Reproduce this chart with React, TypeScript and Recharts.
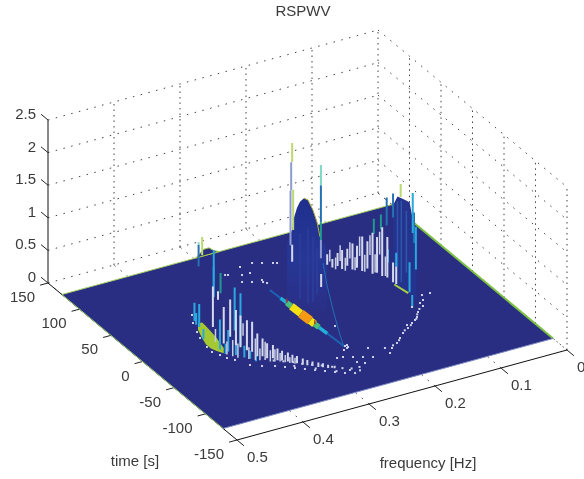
import React from "react";
import { ComposedChart, XAxis, YAxis, Line, Area, Scatter } from "recharts";

type Seg = [number, number, number, number];
type Pt3 = [number, number, number];

// Axis ticks
const FREQ_TICKS = [0, 0.1, 0.2, 0.3, 0.4, 0.5];
const TIME_TICKS = [-150, -100, -50, 0, 50, 100, 150];
const POWER_TICKS = [0, 0.5, 1, 1.5, 2, 2.5];
const FREQ_LABELS = ["0", "0.1", "0.2", "0.3", "0.4", "0.5"];
const TIME_LABELS = ["-150", "-100", "-50", "0", "50", "100", "150"];
const POWER_LABELS = ["0", "0.5", "1", "1.5", "2", "2.5"];

// Surface extent
const SURFACE_FREQ = [0, 0.5];
const SURFACE_TIME = [-128, 128];

// Spikes: [frequency, time, power from, power to]
const whiteSpikes: Seg[] = [
  [0.4, -7, 0.31, 0.93], [0.398, -13, 0.77, 0.9], [0.396, -20, 0.15, 0.71], [0.392, -26, 0.29, 0.86],
  [0.388, -31, 0.19, 0.73], [0.384, -34, 0.17, 0.66], [0.379, -39, 0.15, 0.61], [0.374, -42, 0.14, 0.6],
  [0.369, -45, 0.08, 0.43], [0.363, -47, 0.08, 0.35], [0.358, -49, 0.05, 0.28], [0.352, -52, 0.06, 0.26],
  [0.347, -54, 0.03, 0.21], [0.342, -56, 0.03, 0.18], [0.337, -60, 0.03, 0.17], [0.333, -63, 0.03, 0.15],
  [0.328, -65, 0.02, 0.13], [0.323, -69, 0.02, 0.11], [0.319, -72, 0.02, 0.1], [0.314, -75, 0.02, 0.09],
  [0.308, -78, 0.01, 0.08], [0.303, -80, 0.01, 0.07], [0.298, -83, 0.01, 0.06], [0.291, -86, 0.01, 0.05],
  [0.16, 63, 0.04, 0.2], [0.156, 59, 0.02, 0.15], [0.151, 56, 0.05, 0.25], [0.147, 53, 0.02, 0.31],
  [0.142, 50, 0.08, 0.34], [0.137, 47, 0.03, 0.43], [0.132, 45, 0.06, 0.4], [0.127, 42, 0.02, 0.55],
  [0.123, 38, 0.08, 0.5], [0.119, 34, 0.02, 0.65], [0.116, 30, 0.06, 0.61], [0.112, 26, 0.03, 0.78],
  [0.109, 21, 0.04, 0.66], [0.107, 14, 0.02, 0.32], [0.106, 10, 0.02, 0.29],
  [0.194, 83, 0.02, 0.28], [0.194, 37, 0, 0.2],
];
const whiteRowTwo: Seg[] = [
  [0.158, 61, 0.1, 0.28], [0.153, 57, 0, 0.18], [0.149, 54, 0.14, 0.38], [0.144, 51, 0, 0.2], [0.14, 48, 0.2, 0.45],
  [0.134, 46, 0.02, 0.22], [0.13, 43, 0.25, 0.55], [0.125, 40, 0.02, 0.28], [0.121, 36, 0.3, 0.6], [0.117, 32, 0.05, 0.33],
  [0.114, 28, 0.35, 0.7], [0.11, 23, 0.05, 0.35],
  [0.399, -10, 0.1, 0.3], [0.394, -23, 0, 0.2], [0.39, -28, 0, 0.25], [0.386, -32, 0, 0.22], [0.382, -36, 0.36, 0.55],
  [0.377, -40, 0.02, 0.2], [0.371, -44, 0.02, 0.35], [0.366, -46, 0.02, 0.2], [0.36, -48, 0.02, 0.3], [0.355, -51, 0.01, 0.18],
  [0.35, -53, 0.01, 0.2], [0.344, -55, 0.01, 0.14], [0.339, -58, 0.01, 0.12], [0.335, -61, 0.01, 0.1], [0.33, -64, 0.01, 0.1],
];
const cyanSpikes: Seg[] = [
  [0.385, 38, 0, 0.28], [0.395, 20, 0.08, 0.43], [0.397, -15, 0.02, 0.48], [0.393, -24, 0.05, 0.38],
  [0.389, -30, 0.41, 1.07], [0.384, -34, 0.2, 1.0], [0.388, -31, 0.04, 0.35], [0.381, -37, 0.03, 0.21],
  [0.376, -41, 0.03, 0.15], [0.33, 65, 0, 0.72], [0.102, -12, 0.97, 1.58], [0.102, -17, 0.45, 1.1],
  [0.106, 10, 0.29, 0.5], [0.109, 20, 0.28, 0.48], [0.103, -8, 0.03, 0.49], [0.119, -29, 0, 0.2],
  [0.39, 30, 0.02, 0.2], [0.4, 8, 0, 0.16], [0.395, -22, 0, 0.16], [0.37, -44, 0, 0.1],
];
const blueSpikes: Seg[] = [
  [0.4, -8, 0.93, 1.24], [0.107, 14, 1.01, 1.38], [0.109, 22, 0.83, 1.26], [0.102, -14, 0.83, 1.3],
  [0.16, 73, 0.61, 1.18], [0.31, 110, 0.05, 0.38],
];
const tealSpikes: Seg[] = [
  [0.397, -16, 0.89, 1.2], [0.118, 33, 0.64, 0.87], [0.113, 27, 0.74, 0.97], [0.16, 73, 0.34, 0.61],
];
const mintSpikes: Seg[] = [[0.16, 73, 1.18, 1.49], [0.31, 110, 0.38, 0.42]];
const limeSpikes: Seg[] = [[0.194, 83, 1.55, 1.84], [0.1925, 83, 0.5, 1.12], [0.3065, 108, 0.23, 0.51], [0.105, 4, 1.4, 1.6]];
const lilacSpikes: Seg[] = [[0.1955, 83, 1.12, 1.55], [0.1965, 83, 0.28, 1.12], [0.16, 73, 0.06, 0.34]];
const redMarks: Seg[] = [[0.2549, 28, 0, 0.06], [0.2522, -14, 0, 0.06]];

// Central dome, at time 0
const domeFreq = [0.281, 0.2735, 0.2705, 0.266, 0.2614, 0.2553, 0.2492, 0.2417, 0.2356, 0.2311, 0.2205];
const domePower = [1.2, 1.39, 1.57, 1.71, 1.79, 1.83, 1.785, 1.61, 1.41, 1.17, 0.94];
const domeStripes: Seg[] = [
  [0.2614, 0, 0.3, 1.3], [0.2492, 0, 0.2, 1.35], [0.2417, 0, 0.2, 1.2], [0.2356, 0, 0.3, 1.0],
];

// Right wall: [frequency, time, power]
const wallColumns: Pt3[] = [
  [0.107, 14, 1.2], [0.106, 8, 1.38], [0.1045, -1, 1.4], [0.103, -8, 1.41], [0.102, -14, 1.1], [0.102, -18, 0.6],
];
const wallStripes: Seg[] = [
  [0.106, 8, 0.3, 1.3], [0.105, 3, 0.1, 1.35], [0.104, -4, 0.3, 1.25],
];

// Small far hill at the surface edge
const hillColumns: Pt3[] = [[0.297, 128, 0], [0.285, 128, 0.1], [0.277, 128, 0.1], [0.27, 128, 0.04], [0.262, 128, 0]];

// Green patch low on the left
const patchColumns: Pt3[] = [[0.393, 24, 0.1], [0.4, 10, 0.24], [0.404, 0, 0.28], [0.404, -8, 0.26], [0.401, -14, 0.2], [0.396, -20, 0.08]];

// Central ridge: stops along time
const ridgeFreq = [0.2565, 0.2555, 0.2549, 0.2544, 0.2535, 0.2526, 0.2522, 0.2517, 0.2509, 0.249];
const ridgeTime = [53, 37, 28, 21, 7, -7, -13.5, -20, -32.5, -58.6];
const ridgeLevel = [1, 2, 3, 4, 5, 4, 3, 2, 1];

// Thin tail and green base of right wall: [frequency, time, power]
const tailCurve: Pt3[] = [[0.1589, 70.9, 0], [0.1845, 37.7, 0], [0.212, -0.7, 0], [0.2383, -39.4, 0], [0.2502, -58.2, 0]];
const wallBase: Pt3[] = [[0.107, 12, 0], [0.103, -6, 0]];

// Isolated points: [frequency, time]
const dots: [number, number][] = [
  [0.0899, -14], [0.078, -14.3], [0.1178, -27.3], [0.0956, -21.6], [0.1031, -24.7], [0.1038, -30.2], [0.1178, -36.9],
  [0.1258, -43.7], [0.1322, -47.2], [0.1397, -50.3], [0.1512, -56], [0.1482, -51.3], [0.1637, -61.2], [0.174, -67.2],
  [0.1843, -73.2], [0.1969, -78.5], [0.206, -84.9], [0.2049, -75.7], [0.2309, -84], [0.2242, -69], [0.2483, -89.5],
  [0.256, -84.9], [0.275, -93.6], [0.2441, -56.5], [0.2651, -72.2], [0.2477, -57.1], [0.2457, -59.8], [0.2482, -60.8],
  [0.2544, -62.5], [0.2733, -71.3], [0.2317, -24.5], [0.2537, -76.1], [0.2423, -80], [0.259, 97.7], [0.2398, 98.7],
  [0.2284, 94.8], [0.2159, 90.5], [0.2113, 88.9], [0.2534, 67], [0.2502, 64], [0.2518, 70.4], [0.2677, 85.4],
  [0.2559, 85.1], [0.2659, 71.4], [0.2871, 92], [0.2837, 90.9], [0.2773, 75.3], [0.3797, 47.5], [0.3895, 35.6],
  [0.3973, 21], [0.4021, 11.2], [0.4065, -4.4], [0.4077, -13.6], [0.4027, -21.1], [0.3988, -28.1], [0.3924, -34.1],
  [0.3822, -47.2], [0.3699, -53.4], [0.355, -58.5], [0.345, -63.8], [0.335, -69.2], [0.325, -74.5], [0.3149, -80],
  [0.3049, -85.3], [0.2948, -90.6], [0.2848, -96], [0.2734, -100],
  [0.349, -50], [0.339, -55], [0.329, -60], [0.321, -66], [0.311, -71], [0.301, -76], [0.291, -82], [0.281, -88],
  [0.271, -92], [0.333, -66], [0.312, -78], [0.292, -90], [0.264, -98], [0.26, -93],
  [0.112, -33], [0.122, -40], [0.129, -46], [0.144, -53], [0.158, -58], [0.178, -70], [0.192, -75],
];

// View of the 3-D box
const P = (f: number, t: number, z = 0) => ({
  x: 567 - 660 * f - 0.63 * (t + 150),
  y: 350 + 180 * f - (157 / 300) * (t + 150) - 65.2 * z,
});

const gap = (x: number) => ({ x, y: null as number | null });
const spikes = (list: Seg[]) =>
  list.flatMap(([f, t, a, b]) => {
    const p = P(f, t, a);
    return [p, P(f, t, b), gap(p.x)];
  });
const path = (pts: Pt3[]) => pts.map(([f, t, z]) => P(f, t, z));
const columns = (pts: Pt3[]) =>
  pts.map(([f, t, z]) => ({ x: P(f, t, z).x, band: [P(f, t, z).y, P(f, t, 0).y] }));

let zi = 1;
const pathLine = (key: string, data: any[], stroke: string, width: number, dash?: string) => (
  <Line
    key={key}
    data={data}
    dataKey="y"
    stroke={stroke}
    strokeWidth={width}
    strokeDasharray={dash}
    strokeLinecap="butt"
    dot={false}
    activeDot={false}
    isAnimationActive={false}
    legendType="none"
    zIndex={zi++}
  />
);
const bandArea = (key: string, data: any[], fill: string, stroke = "none") => (
  <Area
    key={key}
    data={data}
    dataKey="band"
    fill={fill}
    fillOpacity={1}
    stroke={stroke}
    type="linear"
    dot={false}
    activeDot={false}
    isAnimationActive={false}
    legendType="none"
    zIndex={zi++}
  />
);

const GRID = "#444444";
const H_DASH = "1.5 6.5";
const V_DASH = "1.5 4";

// Convex quadrilateral as a top/bottom band over x
const cornerPts = [
  P(SURFACE_FREQ[1], SURFACE_TIME[1]),
  P(SURFACE_FREQ[1], SURFACE_TIME[0]),
  P(SURFACE_FREQ[0], SURFACE_TIME[1]),
  P(SURFACE_FREQ[0], SURFACE_TIME[0]),
];
const lerpY = (a: { x: number; y: number }, b: { x: number; y: number }, x: number) =>
  a.y + ((b.y - a.y) * (x - a.x)) / (b.x - a.x);
const [cL, cB, cT, cR] = cornerPts;
const surfaceBand = [
  { x: cL.x, band: [cL.y, cL.y] },
  { x: cB.x, band: [lerpY(cL, cT, cB.x), cB.y] },
  { x: cT.x, band: [cT.y, lerpY(cB, cR, cT.x)] },
  { x: cR.x, band: [cR.y, cR.y] },
];

const jet: Record<number, [string, number]> = {
  1: ["#1c62b4", 2],
  2: ["#22b0d8", 3.5],
  3: ["#4cc07a", 5.5],
  4: ["#f2e012", 7.5],
  5: ["#f59a12", 9],
};

const textStyle = { fontFamily: "'Liberation Sans', Arial, sans-serif", fontSize: 15, fill: "#3a3a3a" };
const textMark = (p: any) => (
  <text x={p.cx + p.payload.dx} y={p.cy + p.payload.dy} textAnchor={p.payload.anchor} style={textStyle}>
    {p.payload.label}
  </text>
);
const labelData = [
  ...FREQ_TICKS.map((f, i) => ({ ...P(f, -150), label: FREQ_LABELS[i], dx: 10, dy: 22, anchor: "start" })),
  ...TIME_TICKS.map((t, i) => ({ ...P(0.5, t), label: TIME_LABELS[i], dx: -13, dy: 19, anchor: "end" })),
  ...POWER_TICKS.map((z, i) => ({ ...P(0.5, 150, z), label: POWER_LABELS[i], dx: -12, dy: -1, anchor: "end" })),
  { x: 303, y: 16, label: "RSPWV", dx: 0, dy: 0, anchor: "middle" },
  { x: 135, y: 466, label: "time [s]", dx: 0, dy: 0, anchor: "middle" },
  { x: 428, y: 468, label: "frequency [Hz]", dx: 0, dy: 0, anchor: "middle" },
];

export default function App() {
  zi = 1;
  const gridLines: any[] = [];
  POWER_TICKS.forEach((z) => {
    if (z > 0) {
      gridLines.push(pathLine(`gz${z}`, [P(0.5, 150, z), P(0, 150, z)], GRID, 1, H_DASH));
      gridLines.push(pathLine(`gy${z}`, [P(0, 150, z), P(0, -150, z)], GRID, 1, H_DASH));
    }
  });
  gridLines.push(pathLine("g0a", [P(0.5, 150), P(0, 150)], GRID, 1, H_DASH));
  gridLines.push(pathLine("g0b", [P(0, 150), P(0, -150)], GRID, 1, H_DASH));
  FREQ_TICKS.forEach((f) => {
    if (f < 0.5) gridLines.push(pathLine(`gf${f}`, [P(f, 150), P(f, 150, 2.5)], GRID, 1, V_DASH));
    gridLines.push(pathLine(`gs${f}`, [P(f, -150), P(f, -128)], GRID, 1, H_DASH));
    gridLines.push(pathLine(`gb${f}`, [P(f, 128), P(f, 150)], GRID, 1, H_DASH));
  });
  TIME_TICKS.forEach((t) => {
    if (t < 150) gridLines.push(pathLine(`gt${t}`, [P(0, t), P(0, t, 2.5)], GRID, 1, V_DASH));
  });

  const axisLines = [
    pathLine("az", [P(0.5, 150), P(0.5, 150, 2.5)], "#111", 1),
    pathLine("at", [P(0.5, 150), P(0.5, -150)], "#111", 1),
    pathLine("af", [P(0.5, -150), P(0, -150)], "#111", 1),
    ...POWER_TICKS.map((z) => pathLine(`tz${z}`, [P(0.5, 150, z), P(0.5, 161, z)], "#222", 1)),
    ...TIME_TICKS.map((t) => pathLine(`tt${t}`, [P(0.5, t), P(0.512, t)], "#222", 1)),
    ...FREQ_TICKS.map((f) => pathLine(`tf${f}`, [P(f, -150), P(f, -161)], "#222", 1)),
  ];

  return (
    <div style={{ position: "absolute", left: 0, top: 0, background: "#fff", filter: "blur(0.35px)" }}>
      <ComposedChart width={584} height={479} data={[]} margin={{ top: 0, right: 0, bottom: 0, left: 0 }}>
        <defs>
          <linearGradient id="domeFill" x1="0" y1="0" x2="0" y2="1">
            <stop offset="0" stopColor="#1f2f8e" />
            <stop offset="0.5" stopColor="#263796" />
            <stop offset="0.85" stopColor="#2a3088" />
            <stop offset="1" stopColor="#2a2e82" />
          </linearGradient>
        </defs>
        <XAxis type="number" dataKey="x" domain={[0, 584]} hide allowDataOverflow />
        <YAxis type="number" dataKey="y" domain={[0, 479]} reversed hide allowDataOverflow />

        {gridLines}
        {axisLines}

        {bandArea("surface", surfaceBand, "#2a2e82")}
        {pathLine("rimFar", [P(0.5, 128), P(0, 128)], "#a4d060", 1)}
        {pathLine("rimRight", [P(0, 128), P(0, -128)], "#7cc142", 2)}
        {pathLine("rimLeft", [P(0.5, 128), P(0.5, -128)], "#8fc96a", 1)}
        {pathLine("rimFront", [P(0.5, -128), P(0, -128)], "#7f8cc4", 1)}

        {bandArea("hill", columns(hillColumns), "#2a2e82", "#a4c840")}
        {bandArea("dome", columns(domeFreq.map((f, i) => [f, 0, domePower[i]] as Pt3)), "url(#domeFill)")}
        {pathLine("domeStripes", spikes(domeStripes), "#2c3f9c", 1.5)}
        {pathLine(
          "domeRim",
          domeFreq.slice(5, 10).map((f, i) => P(f, 0, domePower[i + 5])),
          "#b4b040",
          1
        )}
        {bandArea("wall", columns(wallColumns), "#24338e")}
        {pathLine("wallStripes", spikes(wallStripes), "#2f55a8", 1.5)}
        {pathLine("wallBase", path(wallBase), "#a8d040", 2)}
        {bandArea("patch", columns(patchColumns), "#a4c832")}

        {pathLine("tail", path(tailCurve), "#1c70b8", 1)}
        {ridgeLevel.map((lv, i) =>
          pathLine(`r${i}`, [P(ridgeFreq[i], ridgeTime[i]), P(ridgeFreq[i + 1], ridgeTime[i + 1])], jet[lv][0], jet[lv][1])
        )}
        {pathLine("red", spikes(redMarks), "#a03a30", 1.5)}

        {pathLine("blue", spikes(blueSpikes), "#2670b4", 2)}
        {pathLine("teal", spikes(tealSpikes), "#1f9a8f", 2)}
        {pathLine("cyan", spikes(cyanSpikes), "#29a9df", 2)}
        {pathLine("lilac", spikes(lilacSpikes), "#8f9bd0", 2)}
        {pathLine("white", spikes(whiteSpikes), "#d5d9ec", 2)}
        {pathLine("whiteTwo", spikes(whiteRowTwo), "#c8cde6", 1.5)}
        {pathLine("lime", spikes(limeSpikes), "#bcd870", 2)}
        {pathLine("mint", spikes(mintSpikes), "#7fd8c4", 2)}

        <Scatter
          data={dots.map(([f, t]) => P(f, t))}
          isAnimationActive={false}
          legendType="none"
          zIndex={2000}
          shape={(p: any) => <rect x={p.cx - 1} y={p.cy - 1} width={2} height={2} fill="#cdd2e8" />}
        />
        <Scatter data={labelData} isAnimationActive={false} legendType="none" zIndex={2001} shape={textMark} />
      </ComposedChart>
    </div>
  );
}
